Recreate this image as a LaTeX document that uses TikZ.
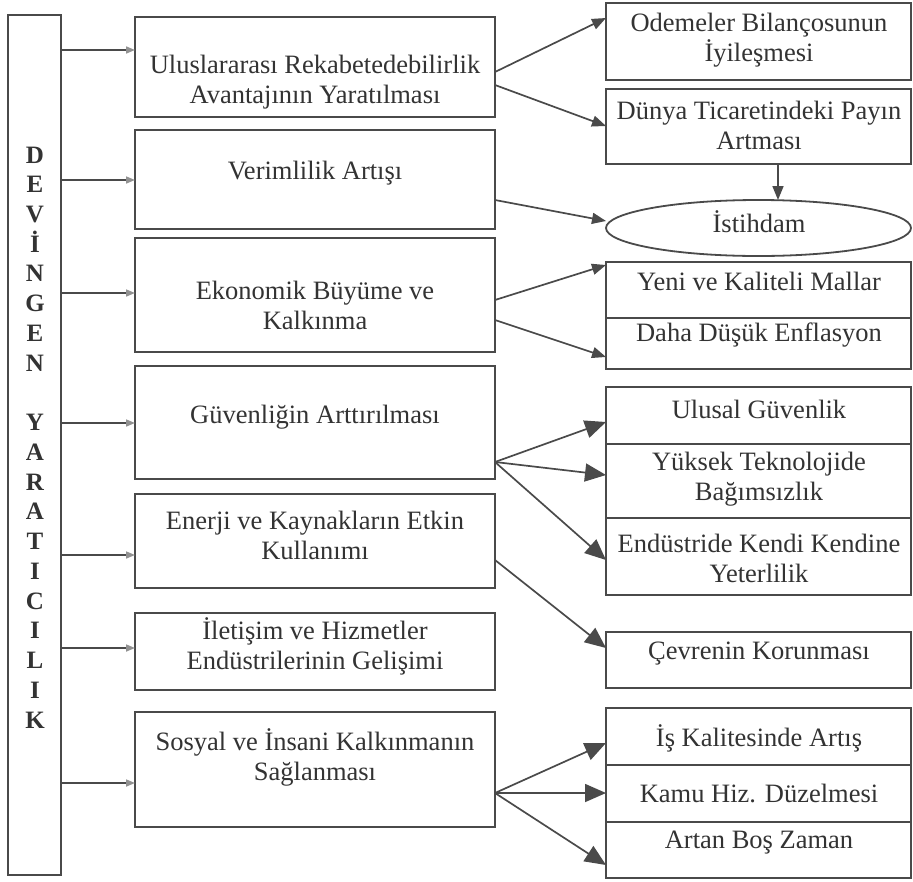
\documentclass[tikz,border=0pt]{standalone}
\usepackage{fontspec}
\setmainfont{Liberation Serif}
\usetikzlibrary{arrows.meta,shapes.geometric}
\definecolor{ink}{HTML}{4A4A4A}
\definecolor{txt}{HTML}{333333}
\begin{document}
\begin{tikzpicture}[x=1pt,y=-1pt,
  box/.style={draw=ink, line width=1.8pt, anchor=north west, inner sep=0pt, outer sep=0pt},
  lbl/.style={text=txt, align=center, font=\fontsize{26.5}{30}\selectfont, inner sep=0pt},
  letter/.style={text=txt, font=\fontsize{25}{28}\selectfont\bfseries, inner sep=0pt, anchor=base},
  conn/.style={draw=ink, line width=1.7pt},
  small/.style={conn, -{Triangle[length=14pt,width=11pt]}},
  big/.style={conn, -{Triangle[length=21pt,width=18pt]}},
  feed/.style={draw=ink, line width=1.6pt, -{Triangle[length=9pt,width=7pt,color=ink!60]}}
]
\fill[white] (0,0) rectangle (913,881);
\useasboundingbox (0,0) rectangle (913,881);

% left column
\node[box, minimum width=53pt, minimum height=860pt] (lb) at (8,15) {};
\foreach \ch [count=\i] in {D,E,V,İ,N,G,E,N,{},Y,A,R,A,T,I,C,I,L,I,K}
  \node[letter] (L\i) at (35,{163+(\i-1)*29.74}) {\ch};

% middle boxes
\node[box, minimum width=360pt, minimum height=100pt] (m1) at (135,17) {};
\node[box, minimum width=360pt, minimum height=99pt]  (m2) at (135,130) {};
\node[box, minimum width=360pt, minimum height=114pt] (m3) at (135,238) {};
\node[box, minimum width=360pt, minimum height=113pt] (m4) at (135,366) {};
\node[box, minimum width=360pt, minimum height=94pt]  (m5) at (135,494) {};
\node[box, minimum width=360pt, minimum height=77pt]  (m6) at (135,613) {};
\node[box, minimum width=360pt, minimum height=115pt] (m7) at (135,712) {};

\node[lbl] (t1) at (315,82) {Uluslararası Rekabetedebilirlik\\Avantajının Yaratılması};
\node[lbl] (t2) at (315,173) {Verimlilik Artışı};
\node[lbl] (t3) at (315,305) {Ekonomik Büyüme ve\\Kalkınma};
\node[lbl] (t4) at (315,417) {Güvenliğin Arttırılması};
\node[lbl] (t5) at (315,535) {Enerji ve Kaynakların Etkin\\Kullanımı};
\node[lbl] (t6) at (315,646) {İletişim ve Hizmetler\\Endüstrilerinin Gelişimi};
\node[lbl] (t7) at (315,757) {Sosyal ve İnsani Kalkınmanın\\Sağlanması};

% right boxes
\node[box, minimum width=305pt, minimum height=77pt] (r1) at (606,3) {};
\node[box, minimum width=305pt, minimum height=75pt] (r2) at (606,89) {};
\node[draw=ink, line width=1.8pt, ellipse, minimum width=305pt, minimum height=56pt, inner sep=0pt, outer sep=0pt] (ell) at (758.5,228) {};
\node[box, minimum width=305pt, minimum height=56pt] (r3) at (606,262) {};
\node[box, minimum width=305pt, minimum height=51pt] (r4) at (606,318) {};
\node[box, minimum width=305pt, minimum height=57pt] (r5) at (606,387) {};
\node[box, minimum width=305pt, minimum height=74pt] (r6) at (606,444) {};
\node[box, minimum width=305pt, minimum height=77pt] (r7) at (606,518) {};
\node[box, minimum width=305pt, minimum height=56pt] (r8) at (606,632) {};
\node[box, minimum width=305pt, minimum height=57pt] (r9) at (606,708) {};
\node[box, minimum width=305pt, minimum height=57pt] (r10) at (606,765) {};
\node[box, minimum width=305pt, minimum height=56pt] (r11) at (606,822) {};

\node[lbl] (s1) at (759,40) {Odemeler Bilançosunun\\İyileşmesi};
\node[lbl] (s2) at (759,125) {Dünya Ticaretindeki Payın\\Artması};
\node[lbl] (se) at (759,222) {İstihdam};
\node[lbl] (s3) at (759,281) {Yeni ve Kaliteli Mallar};
\node[lbl] (s4) at (759,335) {Daha Düşük Enflasyon};
\node[lbl] (s5) at (759,409) {Ulusal Güvenlik};
\node[lbl] (s6) at (759,479) {Yüksek Teknolojide\\Bağımsızlık};
\node[lbl] (s7) at (759,558) {Endüstride Kendi Kendine\\Yeterlilik};
\node[lbl] (s8) at (759,654) {Çevrenin Korunması};
\node[lbl] (s9) at (759,738) {İş Kalitesinde Artış};
\node[lbl] (s10) at (759,793) {Kamu Hiz. Düzelmesi};
\node[lbl] (s11) at (759,843) {Artan Boş Zaman};

% feeds from left column
\draw[feed] (lb.east |- 0,50)  -- (m1.west |- 0,50);
\draw[feed] (lb.east |- 0,180) -- (m2.west |- 0,180);
\draw[feed] (lb.east |- 0,293) -- (m3.west |- 0,293);
\draw[feed] (lb.east |- 0,423) -- (m4.west |- 0,423);
\draw[feed] (lb.east |- 0,555) -- (m5.west |- 0,555);
\draw[feed] (lb.east |- 0,648) -- (m6.west |- 0,648);
\draw[feed] (lb.east |- 0,783) -- (m7.west |- 0,783);

% outputs
\draw[small] (m1.east |- 0,72)  -- (r1.west |- 0,18);
\draw[small] (m1.east |- 0,85)  -- (r2.west |- 0,126);
\draw[small] (m2.east |- 0,200) -- (ell.west |- 0,221);
\draw[small] (r2.south -| 778,0) -- (ell.north -| 778,0);
\draw[small] (m3.east |- 0,300) -- (r3.west |- 0,265);
\draw[small] (m3.east |- 0,320) -- (r4.west |- 0,357);
\draw[big] (m4.east |- 0,462) -- (r5.west |- 0,422);
\draw[big] (m4.east |- 0,462) -- (r6.west |- 0,475);
\draw[big] (m4.east |- 0,462) -- (r7.west |- 0,560);
\draw[big] (m5.east |- 0,560) -- (r8.west |- 0,648);
\draw[big] (m7.east |- 0,793) -- (r9.west |- 0,743);
\draw[big] (m7.east |- 0,793) -- (r10.west |- 0,793);
\draw[big] (m7.east |- 0,793) -- (r11.west |- 0,865);
\end{tikzpicture}
\end{document}
